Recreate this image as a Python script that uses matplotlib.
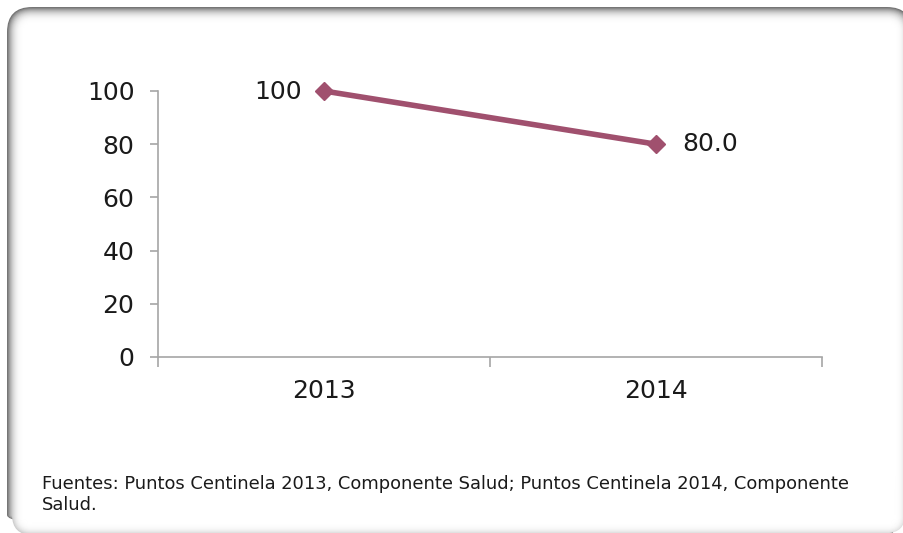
import numpy as np
import matplotlib
matplotlib.use('Agg')
import matplotlib.pyplot as plt
from matplotlib.patches import FancyBboxPatch

years = ['2013', '2014']
values = [100, 80.0]
value_labels = ['100', '80.0']
y_ticks = [0, 20, 40, 60, 80, 100]
source = ('Fuentes: Puntos Centinela 2013, Componente Salud; Puntos Centinela 2014, Componente\n'
          'Salud.')

W, H = 904, 533
fig = plt.figure(figsize=(W / 100, H / 100), dpi=100)
fig.patch.set_facecolor('white')

# pixel-space axes for the rounded frame and the footer
bg = fig.add_axes([0, 0, 1, 1], zorder=0)
bg.set_xlim(0, W)
bg.set_ylim(H, 0)
bg.axis('off')

# frame with a soft inner shadow: nested rounded outlines, gray -> white
# (runs off the right and bottom edges)
n = 18
for i in range(n):
    t = i / (n - 1)
    g = 0.45 + 0.55 * (1 - (1 - t) ** 3.0)
    x0, y0 = 8 + i, 8 + i
    x1, y1 = 911 - i, 539 - i
    r = max(24 - i, 4)
    box = FancyBboxPatch((x0 + r, y0 + r), (x1 - x0) - 2 * r, (y1 - y0) - 2 * r,
                         boxstyle='round,pad=%d' % r,
                         facecolor='white' if i == n - 1 else 'none',
                         edgecolor=(g, g, g), linewidth=1.4, clip_on=False)
    bg.add_patch(box)

bg.text(42, 475, source, fontsize=12.9, va='top', ha='left',
        color='#1a1a1a', linespacing=1.2)

# chart
ax = fig.add_axes([158 / W, 1 - 357 / H, (822 - 158) / W, (357 - 91) / H], zorder=1)
ax.patch.set_alpha(0)
x = np.arange(len(years))
ax.plot(x, values, color='#A0506E', linewidth=4.0, marker='D', markersize=9.5,
        markerfacecolor='#A0506E', markeredgecolor='#A0506E', clip_on=False)

ax.annotate(value_labels[0], (x[0], values[0]), xytext=(-16, -1), textcoords='offset points',
            ha='right', va='center', fontsize=18, color='#1a1a1a')
ax.annotate(value_labels[1], (x[1], values[1]), xytext=(19, 0), textcoords='offset points',
            ha='left', va='center', fontsize=18, color='#1a1a1a')

ax.set_xlim(-0.5, len(years) - 0.5)
ax.set_ylim(0, 100)
ax.set_yticks(y_ticks)
ax.set_xticks(x)
ax.set_xticklabels(years)
ax.set_xticks(np.arange(-0.5, len(years), 1.0), minor=True)

for s in ['top', 'right']:
    ax.spines[s].set_visible(False)
for s in ['left', 'bottom']:
    ax.spines[s].set_color('#A6A6A6')
    ax.spines[s].set_linewidth(1.2)

ax.tick_params(axis='y', length=6, width=1.2, color='#A6A6A6', pad=11,
               labelsize=18, labelcolor='#1a1a1a')
ax.tick_params(axis='x', which='major', length=0, pad=16, labelsize=18, labelcolor='#1a1a1a')
ax.tick_params(axis='x', which='minor', length=7, width=1.2, color='#A6A6A6')

fig.savefig('out.png', dpi=100, facecolor='white')
